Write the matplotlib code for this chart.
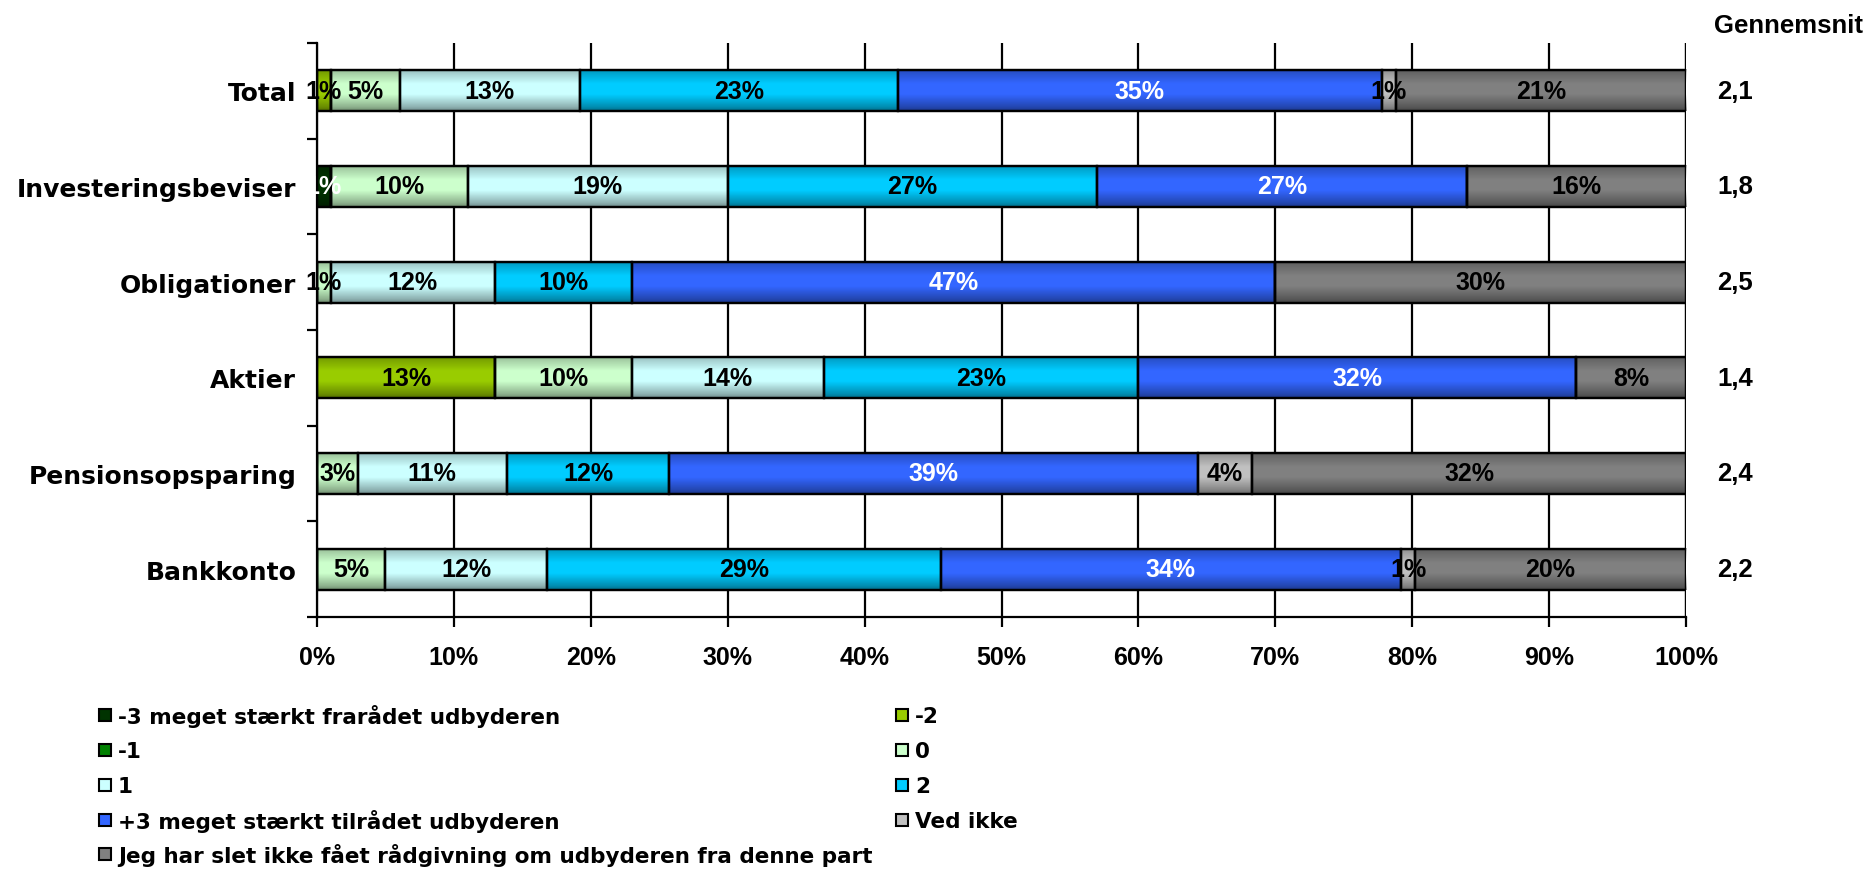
import matplotlib
matplotlib.use("Agg")
import matplotlib.pyplot as plt
import numpy as np
from matplotlib.transforms import blended_transform_factory
from matplotlib.patches import Rectangle

categories = ["Total", "Investeringsbeviser", "Obligationer", "Aktier",
              "Pensionsopsparing", "Bankkonto"]

series_names = ["-3 meget stærkt frarådet udbyderen", "-2", "-1", "0", "1", "2",
                "+3 meget stærkt tilrådet udbyderen", "Ved ikke",
                "Jeg har slet ikke fået rådgivning om udbyderen fra denne part"]

v_m3 = [0, 1, 0, 0, 0, 0]
v_m2 = [1, 0, 0, 13, 0, 0]
v_m1 = [0, 0, 0, 0, 0, 0]
v_0 = [5, 10, 1, 10, 3, 5]
v_1 = [13, 19, 12, 14, 11, 12]
v_2 = [23, 27, 10, 23, 12, 29]
v_p3 = [35, 27, 47, 32, 39, 34]
v_ved = [1, 0, 0, 0, 4, 1]
v_jeg = [21, 16, 30, 8, 32, 20]

gennemsnit = [2.1, 1.8, 2.5, 1.4, 2.4, 2.2]

xtick_labels = ["0%", "10%", "20%", "30%", "40%", "50%", "60%", "70%", "80%", "90%", "100%"]

colors = ["#003300", "#99CC00", "#008000", "#CCFFCC", "#CCFFFF", "#00CCFF",
          "#3366FF", "#C0C0C0", "#808080"]
text_colors = ["white", "black", "white", "black", "black", "black",
               "white", "black", "black"]

series_values = [v_m3, v_m2, v_m1, v_0, v_1, v_2, v_p3, v_ved, v_jeg]

NUM_FONT = "Liberation Sans"
LBL_FONT = "DejaVu Sans"

W, H = 1870, 870
fig = plt.figure(figsize=(W / 100, H / 100), dpi=100)
ax = fig.add_axes([317 / W, 1 - 618 / H, (1686 - 317) / W, (618 - 44) / H])

data = np.array(series_values, dtype=float)
totals = data.sum(axis=0)
norm = data / totals * 100.0

y = np.arange(len(categories))
bar_h = 0.43

# gradient overlay (cylinder-like shading)
prof = np.linspace(0, 1, 64)
alpha = np.interp(prof, [0, 0.08, 0.35, 0.6, 0.9, 1.0], [0.35, 0.2, 0.0, 0.0, 0.3, 0.45])
grad = np.zeros((64, 1, 4))
grad[:, 0, 3] = alpha

left = np.zeros(len(categories))
for i, (name, col) in enumerate(zip(series_names, colors)):
    w = norm[i]
    bars = ax.barh(y, w, left=left, height=bar_h, color=col, edgecolor="black",
                   linewidth=1.6, zorder=2, label=name)
    for j, b in enumerate(bars):
        if data[i, j] <= 0:
            continue
        x0, y0 = b.get_x(), b.get_y()
        ax.imshow(grad, extent=[x0, x0 + b.get_width(), y0 + b.get_height(), y0],
                  aspect="auto", interpolation="bilinear", zorder=2.5)
        ax.text(x0 + b.get_width() / 2, y[j], f"{int(data[i, j])}%",
                ha="center", va="center", fontsize=18, fontweight="bold",
                family=NUM_FONT, color=text_colors[i], zorder=4)
    ax.barh(y, w, left=left, height=bar_h, facecolor="none", edgecolor="black",
            linewidth=1.6, zorder=3)
    left = left + w

ax.set_xlim(0, 100)
ax.set_ylim(len(categories) - 0.5, -0.5)

ax.set_xticks(np.arange(0, 101, 10))
ax.set_xticklabels(xtick_labels, fontsize=18, fontweight="bold", family=NUM_FONT)
ax.tick_params(axis="x", direction="out", length=7, width=1.6, pad=13)
ax.grid(axis="x", color="black", linewidth=1.6, zorder=0)
ax.set_axisbelow(True)

ax.set_yticks(y)
ax.set_yticklabels(categories, fontsize=18, fontweight="bold", family=LBL_FONT)
ax.tick_params(axis="y", which="major", length=0, pad=15)
ax.set_yticks(np.arange(-0.5, len(categories), 1.0), minor=True)
ax.tick_params(axis="y", which="minor", direction="out", length=7, width=1.6)

for s in ["top", "right"]:
    ax.spines[s].set_visible(False)
for s in ["left", "bottom"]:
    ax.spines[s].set_linewidth(1.6)
ax.axvline(100, color="black", linewidth=1.6, zorder=1)

# Gennemsnit column
trans = blended_transform_factory(fig.transFigure, ax.transData)
for j, g in enumerate(gennemsnit):
    ax.text(1717 / W, y[j], f"{g:.1f}".replace(".", ","), transform=trans,
            ha="left", va="center", fontsize=18.5, fontweight="bold", family=NUM_FONT)
fig.text(1714 / W, 1 - 26 / H, "Gennemsnit", ha="left", va="center",
         fontsize=18.5, fontweight="bold", family=NUM_FONT)

# Legend: two columns, filled row-wise, placed manually
row_y = [716, 751, 786, 821, 855]
col_x = [99, 896]
box = 12
for k, (name, col) in enumerate(zip(series_names, colors)):
    r, c = divmod(k, 2)
    cy = row_y[r]
    fig.add_artist(Rectangle((col_x[c] / W, 1 - (cy + box / 2) / H), box / W, box / H,
                             transform=fig.transFigure, facecolor=col,
                             edgecolor="black", linewidth=1.5))
    fig.text((col_x[c] + box + 7) / W, 1 - (cy - 1) / H, name, ha="left",
             va="center_baseline", fontsize=15.5, fontweight="bold", family=LBL_FONT)

fig.savefig("out.png", dpi=100)
